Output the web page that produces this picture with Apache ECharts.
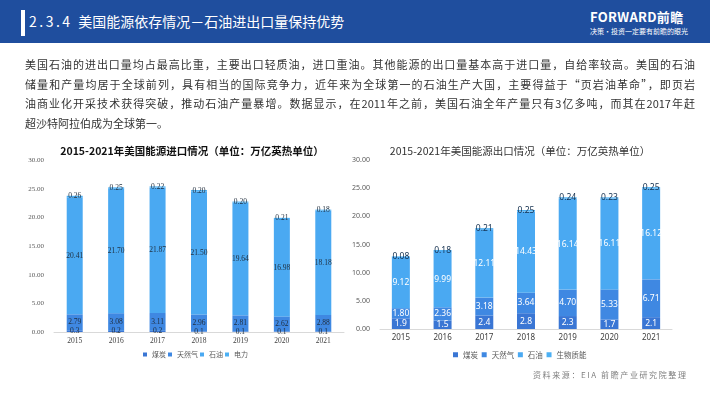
<!DOCTYPE html>
<html>
<head>
<meta charset="utf-8">
<script src="https://cdn.jsdelivr.net/npm/echarts@6/dist/echarts.min.js"></script>
<style>
  html, body { margin: 0; padding: 0; background: #fff; }
  .page { position: relative; width: 710px; height: 399px; overflow: hidden; font-family: "Noto Sans CJK SC", sans-serif; }
  #chart { position: absolute; left: 0; top: 0; width: 710px; height: 399px; }
  .header { position: absolute; left: 0; top: 0; width: 710px; height: 43px; background: #1f4e9e; }
  .header .bar { position: absolute; left: 21px; top: 10px; width: 4px; height: 26px; background: #fff; }
  .header .title { position: absolute; left: 29px; top: 11px; color: #fff; font-size: 14px; line-height: 20px; white-space: nowrap; }
  .header .num { letter-spacing: 2.5px; }
  .logo { position: absolute; left: 590px; top: 9px; color: #fff; font-size: 13px; font-weight: bold; line-height: 15px; white-space: nowrap; letter-spacing: 0.3px; }
  .slogan { position: absolute; left: 590px; top: 26px; color: #fff; font-size: 7px; line-height: 10px; white-space: nowrap; }
  .para { position: absolute; left: 25px; top: 55px; width: 670px; color: #333; font-size: 11px; line-height: 19.5px; }
  .para div { text-align: justify; text-align-last: justify; white-space: nowrap; }
  .para div.last { text-align-last: left; }
  .source { position: absolute; left: 533px; top: 369px; color: #808080; font-size: 8px; letter-spacing: 1.6px; white-space: nowrap; }
</style>
</head>
<body>
<div class="page">
  <div id="chart"></div>
  <div class="header">
    <div class="bar"></div>
    <div class="title"><span class="num">2.3.4 </span>美国能源依存情况－石油进出口量保持优势</div>
    <div class="logo">FORWARD前瞻</div>
    <div class="slogan">决策·投资一定要有前瞻的眼光</div>
  </div>
  <div class="para">
    <div>美国石油的进出口量均占最高比重，主要出口轻质油，进口重油。其他能源的出口量基本高于进口量，自给率较高。美国的石油</div>
    <div>储量和产量均居于全球前列，具有相当的国际竞争力，近年来为全球第一的石油生产大国，主要得益于“页岩油革命”，即页岩</div>
    <div>油商业化开采技术获得突破，推动石油产量暴增。数据显示，在2011年之前，美国石油全年产量只有3亿多吨，而其在2017年赶</div>
    <div class="last">超沙特阿拉伯成为全球第一。</div>
  </div>
  <div class="source">资料来源：EIA 前瞻产业研究院整理</div>
</div>
<script>
const years = ['2015', '2016', '2017', '2018', '2019', '2020', '2021'];

// 进口（万亿英热单位）
const importCoal = ['0.3', '0.2', '0.2', '0.1', '0.1', '0.1', '0.1'];
const importGas = ['2.79', '3.08', '3.11', '2.96', '2.81', '2.62', '2.88'];
const importOil = ['20.41', '21.70', '21.87', '21.50', '19.64', '16.98', '18.18'];
const importPower = ['0.26', '0.25', '0.22', '0.20', '0.20', '0.21', '0.18'];

// 出口（万亿英热单位）
const exportCoal = ['1.9', '1.5', '2.4', '2.8', '2.3', '1.7', '2.1'];
const exportGas = ['1.80', '2.36', '3.18', '3.64', '4.70', '5.33', '6.71'];
const exportOil = ['9.12', '9.99', '12.11', '14.43', '16.14', '16.11', '16.12'];
const exportBio = ['0.08', '0.18', '0.21', '0.25', '0.24', '0.23', '0.25'];

const colors = ['#3a76d4', '#3f88e2', '#4aa9f2', '#4cb0f4'];
const serif = '"Liberation Serif", "Noto Sans CJK SC", serif';
const sans = '"Noto Sans", "Noto Sans CJK SC", sans-serif';

const myChart = echarts.init(document.getElementById('chart'));

function yAxisOpts(gridIndex, font) {
  return {
    gridIndex: gridIndex,
    type: 'value',
    min: 0,
    max: 30,
    interval: 5,
    splitLine: { show: false },
    axisLine: { show: false },
    axisTick: { show: false },
    axisLabel: {
      fontSize: 7,
      color: '#595959',
      fontFamily: font,
      margin: 10,
      formatter: v => v.toFixed(2)
    }
  };
}

function xAxisOpts(gridIndex, font, size) {
  return {
    gridIndex: gridIndex,
    type: 'category',
    data: years,
    axisLine: { lineStyle: { color: '#d9d9d9' } },
    axisTick: { show: false },
    axisLabel: { fontSize: size, color: '#404040', fontFamily: font, margin: 5 }
  };
}

function barSeries(name, data, idx, gridIdx, width, labelColor, labelSize) {
  return {
    name: name,
    type: 'bar',
    stack: 'g' + gridIdx,
    xAxisIndex: gridIdx,
    yAxisIndex: gridIdx,
    barWidth: width,
    data: data.map(Number),
    itemStyle: { color: colors[idx] },
    label: {
      show: true,
      position: 'inside',
      color: labelColor,
      fontSize: labelSize,
      fontFamily: gridIdx === 0 ? serif : sans,
      formatter: p => data[p.dataIndex]
    }
  };
}

const options = {
  animation: false,
  title: [
    {
      text: '2015-2021年美国能源进口情况（单位：万亿英热单位）',
      left: 187, top: 141, textAlign: 'center',
      textStyle: { fontSize: 10.5, fontWeight: 'bold', color: '#111', fontFamily: '"Noto Sans CJK SC", sans-serif' }
    },
    {
      text: '2015-2021年美国能源出口情况（单位：万亿英热单位）',
      left: 515, top: 141, textAlign: 'center',
      textStyle: { fontSize: 10.5, fontWeight: 'normal', color: '#333', fontFamily: '"Noto Sans CJK SC", sans-serif' }
    }
  ],
  legend: [
    {
      data: ['煤炭', '天然气', '石油', '电力'],
      left: 143, top: 351, padding: 0,
      itemWidth: 4, itemHeight: 4, itemGap: 2,
      icon: 'rect',
      textStyle: { fontSize: 7, color: '#595959', fontFamily: '"Noto Sans CJK SC", serif' }
    },
    {
      data: ['煤炭 ', '天然气 ', '石油 ', '生物质能'],
      left: 453, top: 351, padding: 0,
      itemWidth: 5, itemHeight: 5, itemGap: 2,
      icon: 'rect',
      textStyle: { fontSize: 7.5, color: '#595959', fontFamily: '"Noto Sans CJK SC", sans-serif' }
    }
  ],
  grid: [
    { left: 54, width: 290, top: 160, bottom: 67 },
    { left: 380, width: 292, top: 160, bottom: 70 }
  ],
  xAxis: [xAxisOpts(0, serif, 7.5), xAxisOpts(1, sans, 8)],
  yAxis: [yAxisOpts(0, serif), yAxisOpts(1, sans)],
  series: [
    barSeries('煤炭', importCoal, 0, 0, 16, '#1f2d3d', 7.5),
    barSeries('天然气', importGas, 1, 0, 16, '#1f2d3d', 7.5),
    barSeries('石油', importOil, 2, 0, 16, '#1f2d3d', 7.5),
    barSeries('电力', importPower, 3, 0, 16, '#1f2d3d', 7.5),
    barSeries('煤炭 ', exportCoal, 0, 1, 18, '#ffffff', 8.5),
    barSeries('天然气 ', exportGas, 1, 1, 18, '#ffffff', 8.5),
    barSeries('石油 ', exportOil, 2, 1, 18, '#ffffff', 8.5),
    barSeries('生物质能', exportBio, 3, 1, 18, '#14304f', 8.5)
  ]
};

myChart.setOption(options);
</script>
</body>
</html>
